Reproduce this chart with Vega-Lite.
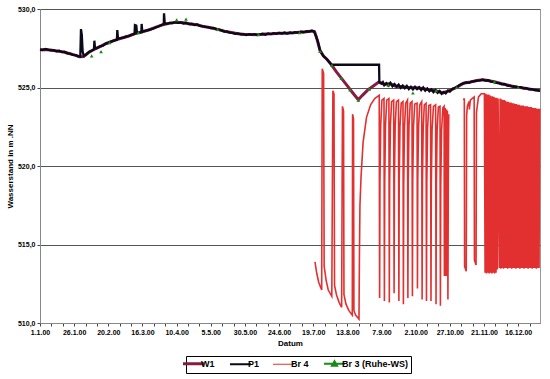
{
"$schema":"https://vega.github.io/schema/vega-lite/v6.json",
"width":500,"height":314,
"autosize":"none",
"padding":{"left":40,"top":9,"right":10,"bottom":56},
"background":"white",
"config":{"view":{"stroke":"#999","strokeWidth":1},"font":"Liberation Sans"},
"data":{"values":[
{"s":"W1","t":0,"v":527.40},{"s":"W1","t":5,"v":527.42},{"s":"W1","t":10,"v":527.35},{"s":"W1","t":15,"v":527.30},{"s":"W1","t":20,"v":527.20},{"s":"W1","t":25,"v":527.08},{"s":"W1","t":29,"v":526.96},{"s":"W1","t":32,"v":526.98},{"s":"W1","t":36,"v":527.25},{"s":"W1","t":40,"v":527.45},{"s":"W1","t":45,"v":527.65},{"s":"W1","t":49,"v":527.82},{"s":"W1","t":55,"v":528.02},{"s":"W1","t":60,"v":528.15},{"s":"W1","t":65,"v":528.28},{"s":"W1","t":70,"v":528.45},{"s":"W1","t":75,"v":528.55},{"s":"W1","t":80,"v":528.68},{"s":"W1","t":85,"v":528.85},{"s":"W1","t":90,"v":529.00},{"s":"W1","t":95,"v":529.10},{"s":"W1","t":100,"v":529.15},{"s":"W1","t":105,"v":529.12},{"s":"W1","t":110,"v":529.05},{"s":"W1","t":115,"v":529.00},{"s":"W1","t":120,"v":528.88},{"s":"W1","t":125,"v":528.80},{"s":"W1","t":130,"v":528.70},{"s":"W1","t":135,"v":528.58},{"s":"W1","t":140,"v":528.50},{"s":"W1","t":145,"v":528.42},{"s":"W1","t":150,"v":528.38},{"s":"W1","t":155,"v":528.38},{"s":"W1","t":160,"v":528.36},{"s":"W1","t":165,"v":528.40},{"s":"W1","t":170,"v":528.42},{"s":"W1","t":175,"v":528.45},{"s":"W1","t":180,"v":528.46},{"s":"W1","t":185,"v":528.48},{"s":"W1","t":190,"v":528.52},{"s":"W1","t":195,"v":528.55},{"s":"W1","t":199,"v":528.60},{"s":"W1","t":201,"v":528.55},{"s":"W1","t":203,"v":528.0},{"s":"W1","t":205,"v":527.35},{"s":"W1","t":207.5,"v":527.0},{"s":"W1","t":210,"v":526.8},{"s":"W1","t":213.5,"v":526.43},{"s":"W1","t":217,"v":526.0},{"s":"W1","t":221,"v":525.55},{"s":"W1","t":225,"v":525.1},{"s":"W1","t":229,"v":524.65},{"s":"W1","t":233,"v":524.22},{"s":"W1","t":236,"v":524.5},{"s":"W1","t":240,"v":524.85},{"s":"W1","t":244,"v":525.1},{"s":"W1","t":248,"v":525.35},{"s":"W1","t":252,"v":525.2},{"s":"W1","t":256,"v":525.25},{"s":"W1","t":260,"v":525.1},{"s":"W1","t":265,"v":525.05},{"s":"W1","t":270,"v":525.0},{"s":"W1","t":275,"v":524.98},{"s":"W1","t":280,"v":524.93},{"s":"W1","t":285,"v":524.85},{"s":"W1","t":290,"v":524.78},{"s":"W1","t":295,"v":524.65},{"s":"W1","t":300,"v":524.82},{"s":"W1","t":305,"v":525.0},{"s":"W1","t":310,"v":525.27},{"s":"W1","t":315,"v":525.35},{"s":"W1","t":320,"v":525.45},{"s":"W1","t":324,"v":525.5},{"s":"W1","t":328,"v":525.45},{"s":"W1","t":334,"v":525.33},{"s":"W1","t":340,"v":525.2},{"s":"W1","t":345,"v":525.1},{"s":"W1","t":350,"v":525.02},{"s":"W1","t":355,"v":524.95},{"s":"W1","t":360,"v":524.88},{"s":"W1","t":366,"v":524.8},
{"s":"P1","t":0,"v":527.42},{"s":"P1","t":2,"v":527.38},{"s":"P1","t":4,"v":527.45},{"s":"P1","t":6,"v":527.40},{"s":"P1","t":8,"v":527.36},{"s":"P1","t":10,"v":527.38},{"s":"P1","t":12,"v":527.30},{"s":"P1","t":14,"v":527.34},{"s":"P1","t":16,"v":527.26},{"s":"P1","t":18,"v":527.28},{"s":"P1","t":20,"v":527.18},{"s":"P1","t":22,"v":527.16},{"s":"P1","t":24,"v":527.08},{"s":"P1","t":26,"v":527.06},{"s":"P1","t":28,"v":526.98},{"s":"P1","t":29.5,"v":526.96},{"s":"P1","t":30,"v":528.72},{"s":"P1","t":30.6,"v":528.35},{"s":"P1","t":31.2,"v":527.3},{"s":"P1","t":32,"v":527.02},{"s":"P1","t":34,"v":527.12},{"s":"P1","t":36,"v":527.28},{"s":"P1","t":38,"v":527.36},{"s":"P1","t":39.5,"v":527.42},{"s":"P1","t":39.8,"v":527.98},{"s":"P1","t":40.3,"v":527.48},{"s":"P1","t":42,"v":527.52},{"s":"P1","t":44,"v":527.62},{"s":"P1","t":46,"v":527.66},{"s":"P1","t":48,"v":527.80},{"s":"P1","t":50,"v":527.84},{"s":"P1","t":52,"v":527.92},{"s":"P1","t":54,"v":527.98},{"s":"P1","t":56.3,"v":528.04},{"s":"P1","t":56.6,"v":528.66},{"s":"P1","t":57.1,"v":528.1},{"s":"P1","t":59,"v":528.14},{"s":"P1","t":61,"v":528.18},{"s":"P1","t":63,"v":528.24},{"s":"P1","t":65,"v":528.28},{"s":"P1","t":67,"v":528.36},{"s":"P1","t":69.2,"v":528.42},{"s":"P1","t":69.5,"v":528.98},{"s":"P1","t":70.5,"v":528.95},{"s":"P1","t":71,"v":528.46},{"s":"P1","t":73,"v":528.50},{"s":"P1","t":74.2,"v":528.52},{"s":"P1","t":74.4,"v":529.05},{"s":"P1","t":74.9,"v":528.56},{"s":"P1","t":77,"v":528.60},{"s":"P1","t":79,"v":528.66},{"s":"P1","t":81,"v":528.70},{"s":"P1","t":83,"v":528.76},{"s":"P1","t":85,"v":528.84},{"s":"P1","t":87,"v":528.90},{"s":"P1","t":89,"v":528.98},{"s":"P1","t":90.6,"v":529.05},{"s":"P1","t":90.8,"v":529.72},{"s":"P1","t":91.3,"v":529.08},{"s":"P1","t":93,"v":529.06},{"s":"P1","t":95,"v":529.12},{"s":"P1","t":97,"v":529.10},{"s":"P1","t":99,"v":529.16},{"s":"P1","t":101,"v":529.12},{"s":"P1","t":103,"v":529.14},{"s":"P1","t":105,"v":529.08},{"s":"P1","t":107,"v":529.12},{"s":"P1","t":109,"v":529.04},{"s":"P1","t":111,"v":529.06},{"s":"P1","t":113,"v":528.98},{"s":"P1","t":115,"v":529.02},{"s":"P1","t":117,"v":528.92},{"s":"P1","t":119,"v":528.90},{"s":"P1","t":121,"v":528.86},{"s":"P1","t":123,"v":528.84},{"s":"P1","t":125,"v":528.78},{"s":"P1","t":127,"v":528.80},{"s":"P1","t":129,"v":528.72},{"s":"P1","t":131,"v":528.68},{"s":"P1","t":133,"v":528.64},{"s":"P1","t":135,"v":528.56},{"s":"P1","t":137,"v":528.56},{"s":"P1","t":139,"v":528.50},{"s":"P1","t":141,"v":528.48},{"s":"P1","t":143,"v":528.42},{"s":"P1","t":145,"v":528.44},{"s":"P1","t":147,"v":528.38},{"s":"P1","t":149,"v":528.40},{"s":"P1","t":151,"v":528.34},{"s":"P1","t":153,"v":528.40},{"s":"P1","t":155,"v":528.36},{"s":"P1","t":157,"v":528.40},{"s":"P1","t":159,"v":528.34},{"s":"P1","t":161,"v":528.38},{"s":"P1","t":163,"v":528.42},{"s":"P1","t":165,"v":528.36},{"s":"P1","t":167,"v":528.44},{"s":"P1","t":169,"v":528.40},{"s":"P1","t":171,"v":528.46},{"s":"P1","t":173,"v":528.42},{"s":"P1","t":175,"v":528.48},{"s":"P1","t":177,"v":528.44},{"s":"P1","t":179,"v":528.50},{"s":"P1","t":181,"v":528.44},{"s":"P1","t":183,"v":528.50},{"s":"P1","t":185,"v":528.46},{"s":"P1","t":187,"v":528.52},{"s":"P1","t":189,"v":528.50},{"s":"P1","t":191,"v":528.56},{"s":"P1","t":193,"v":528.52},{"s":"P1","t":195,"v":528.58},{"s":"P1","t":197,"v":528.56},{"s":"P1","t":199,"v":528.62},{"s":"P1","t":200.5,"v":528.58},{"s":"P1","t":202,"v":528.3},{"s":"P1","t":203.5,"v":527.9},{"s":"P1","t":205,"v":527.35},{"s":"P1","t":207.5,"v":527.0},{"s":"P1","t":210,"v":526.8},{"s":"P1","t":213.5,"v":526.45},{"s":"P1","t":230,"v":526.45},{"s":"P1","t":248.2,"v":526.45},{"s":"P1","t":248.4,"v":525.35},{"s":"P1","t":250,"v":525.25},{"s":"P1","t":251,"v":525.35},{"s":"P1","t":252,"v":525.15},{"s":"P1","t":253.5,"v":525.28},{"s":"P1","t":255,"v":525.12},{"s":"P1","t":256.5,"v":525.3},{"s":"P1","t":258,"v":525.08},{"s":"P1","t":259.5,"v":525.22},{"s":"P1","t":261,"v":525.05},{"s":"P1","t":262.5,"v":525.18},{"s":"P1","t":264,"v":524.98},{"s":"P1","t":265.5,"v":525.12},{"s":"P1","t":267,"v":524.95},{"s":"P1","t":268.5,"v":525.1},{"s":"P1","t":270,"v":524.9},{"s":"P1","t":271.5,"v":525.05},{"s":"P1","t":273,"v":524.88},{"s":"P1","t":274.5,"v":525.04},{"s":"P1","t":276,"v":524.9},{"s":"P1","t":277.5,"v":525.02},{"s":"P1","t":279,"v":524.84},{"s":"P1","t":280.5,"v":525.0},{"s":"P1","t":282,"v":524.8},{"s":"P1","t":283.5,"v":524.94},{"s":"P1","t":285,"v":524.76},{"s":"P1","t":286.5,"v":524.88},{"s":"P1","t":288,"v":524.7},{"s":"P1","t":289.5,"v":524.84},{"s":"P1","t":291,"v":524.66},{"s":"P1","t":292.5,"v":524.78},{"s":"P1","t":294,"v":524.6},{"s":"P1","t":295.5,"v":524.72},{"s":"P1","t":297,"v":524.62},{"s":"P1","t":298.5,"v":524.8},{"s":"P1","t":300,"v":524.74},{"s":"P1","t":302,"v":524.92},{"s":"P1","t":304,"v":524.98},{"s":"P1","t":306,"v":525.1},{"s":"P1","t":308,"v":525.2},{"s":"P1","t":310,"v":525.26},{"s":"P1","t":312,"v":525.32},{"s":"P1","t":314,"v":525.3},{"s":"P1","t":316,"v":525.38},{"s":"P1","t":318,"v":525.4},{"s":"P1","t":320,"v":525.44},{"s":"P1","t":322,"v":525.46},{"s":"P1","t":324,"v":525.5},{"s":"P1","t":326,"v":525.44},{"s":"P1","t":328,"v":525.46},{"s":"P1","t":330,"v":525.38},{"s":"P1","t":332,"v":525.36},{"s":"P1","t":334,"v":525.3},{"s":"P1","t":336,"v":525.28},{"s":"P1","t":338,"v":525.2},{"s":"P1","t":340,"v":525.22},{"s":"P1","t":342,"v":525.12},{"s":"P1","t":344,"v":525.12},{"s":"P1","t":346,"v":525.06},{"s":"P1","t":348,"v":525.06},{"s":"P1","t":350,"v":525.0},{"s":"P1","t":352,"v":525.02},{"s":"P1","t":354,"v":524.94},{"s":"P1","t":356,"v":524.96},{"s":"P1","t":358,"v":524.88},{"s":"P1","t":360,"v":524.9},{"s":"P1","t":362,"v":524.84},{"s":"P1","t":364,"v":524.82},{"s":"P1","t":366,"v":524.78},
{"s":"Br 4","g":"a","t":201.3,"v":513.9},{"s":"Br 4","g":"a","t":202.5,"v":513.2},{"s":"Br 4","g":"a","t":204.0,"v":512.6},{"s":"Br 4","g":"a","t":206.2,"v":512.1},{"s":"Br 4","g":"a","t":206.6,"v":526.2},{"s":"Br 4","g":"a","t":207.6,"v":525.9},{"s":"Br 4","g":"a","t":208.0,"v":513.6},{"s":"Br 4","g":"a","t":209.5,"v":512.7},{"s":"Br 4","g":"a","t":211.0,"v":512.1},{"s":"Br 4","g":"a","t":213.6,"v":511.7},{"s":"Br 4","g":"a","t":214.4,"v":524.8},{"s":"Br 4","g":"a","t":215.2,"v":524.6},{"s":"Br 4","g":"a","t":215.6,"v":512.4},{"s":"Br 4","g":"a","t":217.0,"v":511.8},{"s":"Br 4","g":"a","t":219.0,"v":511.3},{"s":"Br 4","g":"a","t":220.8,"v":511.0},{"s":"Br 4","g":"a","t":221.4,"v":523.8},{"s":"Br 4","g":"a","t":222.2,"v":523.5},{"s":"Br 4","g":"a","t":222.5,"v":511.8},{"s":"Br 4","g":"a","t":224.0,"v":511.2},{"s":"Br 4","g":"a","t":226.0,"v":510.8},{"s":"Br 4","g":"a","t":228.6,"v":510.5},{"s":"Br 4","g":"a","t":228.8,"v":523.3},{"s":"Br 4","g":"a","t":229.5,"v":523.0},{"s":"Br 4","g":"a","t":229.8,"v":510.8},{"s":"Br 4","g":"a","t":231.0,"v":510.5},{"s":"Br 4","g":"a","t":233.5,"v":510.25},{"s":"Br 4","g":"a","t":233.8,"v":514.0},{"s":"Br 4","g":"a","t":234.2,"v":517.5},{"s":"Br 4","g":"a","t":235.0,"v":519.3},{"s":"Br 4","g":"a","t":236.5,"v":521.5},{"s":"Br 4","g":"a","t":239.0,"v":523.1},{"s":"Br 4","g":"a","t":242.0,"v":523.9},{"s":"Br 4","g":"a","t":245.0,"v":524.3},{"s":"Br 4","g":"a","t":248.3,"v":524.5},
{"s":"Br 4","g":"a","t":248.6,"v":511.6},{"s":"Br 4","g":"a","t":248.85,"v":519.0},{"s":"Br 4","g":"a","t":249.4,"v":522.6},{"s":"Br 4","g":"a","t":250.3,"v":524.2},
{"s":"Br 4","g":"a","t":251.8,"v":524.3},{"s":"Br 4","g":"a","t":252.1,"v":511.4},{"s":"Br 4","g":"a","t":252.35,"v":519.0},{"s":"Br 4","g":"a","t":252.9,"v":522.6},{"s":"Br 4","g":"a","t":253.8,"v":524.2},
{"s":"Br 4","g":"a","t":255.4,"v":524.3},{"s":"Br 4","g":"a","t":255.7,"v":511.3},{"s":"Br 4","g":"a","t":255.95,"v":519.0},{"s":"Br 4","g":"a","t":256.5,"v":522.6},{"s":"Br 4","g":"a","t":257.4,"v":524.1},
{"s":"Br 4","g":"a","t":258.9,"v":524.2},{"s":"Br 4","g":"a","t":259.2,"v":511.9},{"s":"Br 4","g":"a","t":259.45,"v":519.2},{"s":"Br 4","g":"a","t":260.0,"v":522.6},{"s":"Br 4","g":"a","t":260.9,"v":524.1},
{"s":"Br 4","g":"a","t":262.4,"v":524.2},{"s":"Br 4","g":"a","t":262.7,"v":511.4},{"s":"Br 4","g":"a","t":262.95,"v":519.0},{"s":"Br 4","g":"a","t":263.5,"v":522.5},{"s":"Br 4","g":"a","t":264.4,"v":524.0},
{"s":"Br 4","g":"a","t":265.7,"v":524.1},{"s":"Br 4","g":"a","t":266.0,"v":511.2},{"s":"Br 4","g":"a","t":266.25,"v":518.8},{"s":"Br 4","g":"a","t":266.8,"v":522.5},{"s":"Br 4","g":"a","t":267.7,"v":524.0},
{"s":"Br 4","g":"a","t":269.0,"v":524.2},{"s":"Br 4","g":"a","t":269.3,"v":511.6},{"s":"Br 4","g":"a","t":269.55,"v":519.0},{"s":"Br 4","g":"a","t":270.1,"v":522.6},{"s":"Br 4","g":"a","t":271.0,"v":524.0},
{"s":"Br 4","g":"a","t":272.3,"v":524.1},{"s":"Br 4","g":"a","t":272.6,"v":511.7},{"s":"Br 4","g":"a","t":272.85,"v":519.0},{"s":"Br 4","g":"a","t":273.4,"v":522.5},{"s":"Br 4","g":"a","t":274.3,"v":523.95},
{"s":"Br 4","g":"a","t":276.0,"v":524.0},{"s":"Br 4","g":"a","t":276.3,"v":512.2},{"s":"Br 4","g":"a","t":276.55,"v":519.2},{"s":"Br 4","g":"a","t":277.1,"v":522.5},{"s":"Br 4","g":"a","t":278.0,"v":523.9},
{"s":"Br 4","g":"a","t":279.4,"v":524.1},{"s":"Br 4","g":"a","t":279.7,"v":511.5},{"s":"Br 4","g":"a","t":279.95,"v":519.0},{"s":"Br 4","g":"a","t":280.5,"v":522.4},{"s":"Br 4","g":"a","t":281.3,"v":523.9},
{"s":"Br 4","g":"a","t":282.6,"v":524.0},{"s":"Br 4","g":"a","t":282.9,"v":511.4},{"s":"Br 4","g":"a","t":283.15,"v":518.9},{"s":"Br 4","g":"a","t":283.7,"v":522.4},{"s":"Br 4","g":"a","t":284.6,"v":523.85},
{"s":"Br 4","g":"a","t":285.9,"v":523.9},{"s":"Br 4","g":"a","t":286.2,"v":511.4},{"s":"Br 4","g":"a","t":286.45,"v":518.9},{"s":"Br 4","g":"a","t":287.0,"v":522.3},{"s":"Br 4","g":"a","t":288.0,"v":523.8},
{"s":"Br 4","g":"a","t":289.6,"v":523.9},{"s":"Br 4","g":"a","t":289.9,"v":511.2},{"s":"Br 4","g":"a","t":290.15,"v":518.8},{"s":"Br 4","g":"a","t":290.7,"v":522.3},{"s":"Br 4","g":"a","t":291.6,"v":523.75},
{"s":"Br 4","g":"a","t":292.8,"v":523.8},{"s":"Br 4","g":"a","t":293.1,"v":511.1},{"s":"Br 4","g":"a","t":293.35,"v":518.7},{"s":"Br 4","g":"a","t":293.9,"v":522.2},{"s":"Br 4","g":"a","t":294.9,"v":523.7},
{"s":"Br 4","g":"a","t":295.8,"v":523.8},{"s":"Br 4","g":"a","t":296.0,"v":513.0},{"s":"Br 4","g":"a","t":296.2,"v":523.6},{"s":"Br 4","g":"a","t":296.5,"v":513.1},{"s":"Br 4","g":"a","t":296.7,"v":523.7},{"s":"Br 4","g":"a","t":297.0,"v":513.0},{"s":"Br 4","g":"a","t":297.2,"v":523.6},{"s":"Br 4","g":"a","t":297.5,"v":513.2},{"s":"Br 4","g":"a","t":297.7,"v":523.6},{"s":"Br 4","g":"a","t":298.0,"v":513.0},{"s":"Br 4","g":"a","t":298.2,"v":523.5},{"s":"Br 4","g":"a","t":298.6,"v":511.5},{"s":"Br 4","g":"a","t":298.9,"v":519.5},{"s":"Br 4","g":"a","t":299.2,"v":523.3},
{"s":"Br 4","g":"c","t":310.0,"v":524.2},{"s":"Br 4","g":"c","t":310.6,"v":524.3},{"s":"Br 4","g":"c","t":310.8,"v":513.6},{"s":"Br 4","g":"c","t":312.0,"v":513.3},{"s":"Br 4","g":"c","t":312.3,"v":523.2},{"s":"Br 4","g":"c","t":312.8,"v":523.8},{"s":"Br 4","g":"c","t":314.0,"v":524.1},{"s":"Br 4","g":"c","t":314.3,"v":523.6},{"s":"Br 4","g":"c","t":315.0,"v":524.2},{"s":"Br 4","g":"c","t":317.8,"v":524.4},{"s":"Br 4","g":"c","t":318.0,"v":514.0},{"s":"Br 4","g":"c","t":319.2,"v":513.7},{"s":"Br 4","g":"c","t":319.5,"v":523.4},{"s":"Br 4","g":"c","t":320.2,"v":523.9},{"s":"Br 4","g":"c","t":321.0,"v":524.4},{"s":"Br 4","g":"c","t":323.0,"v":524.6},{"s":"Br 4","g":"c","t":325.3,"v":524.6},
{"s":"Br 4","g":"c","t":325.8,"v":513.2},{"s":"Br 4","g":"c","t":326.3,"v":524.6},{"s":"Br 4","g":"c","t":326.8,"v":513.15},{"s":"Br 4","g":"c","t":327.3,"v":524.55},{"s":"Br 4","g":"c","t":327.8,"v":513.2},{"s":"Br 4","g":"c","t":328.3,"v":524.55},{"s":"Br 4","g":"c","t":328.8,"v":513.15},{"s":"Br 4","g":"c","t":329.3,"v":524.5},{"s":"Br 4","g":"c","t":329.8,"v":513.2},{"s":"Br 4","g":"c","t":330.3,"v":524.45},{"s":"Br 4","g":"c","t":330.8,"v":513.15},{"s":"Br 4","g":"c","t":331.3,"v":524.45},{"s":"Br 4","g":"c","t":331.8,"v":513.2},{"s":"Br 4","g":"c","t":332.3,"v":524.4},{"s":"Br 4","g":"c","t":332.8,"v":513.15},{"s":"Br 4","g":"c","t":333.3,"v":524.35},{"s":"Br 4","g":"c","t":333.8,"v":513.2},{"s":"Br 4","g":"c","t":334.3,"v":524.35},{"s":"Br 4","g":"c","t":334.8,"v":513.4},{"s":"Br 4","g":"c","t":335.3,"v":524.3},{"s":"Br 4","g":"c","t":336.3,"v":513.5},{"s":"Br 4","g":"c","t":336.8,"v":524.3},{"s":"Br 4","g":"c","t":337.3,"v":513.45},{"s":"Br 4","g":"c","t":337.8,"v":524.25},{"s":"Br 4","g":"c","t":338.3,"v":513.5},{"s":"Br 4","g":"c","t":338.8,"v":524.2},{"s":"Br 4","g":"c","t":339.3,"v":513.45},{"s":"Br 4","g":"c","t":339.8,"v":524.2},{"s":"Br 4","g":"c","t":340.3,"v":513.5},{"s":"Br 4","g":"c","t":340.8,"v":524.15},{"s":"Br 4","g":"c","t":341.3,"v":513.5},{"s":"Br 4","g":"c","t":341.8,"v":524.1},{"s":"Br 4","g":"c","t":342.3,"v":513.45},{"s":"Br 4","g":"c","t":342.8,"v":524.1},{"s":"Br 4","g":"c","t":343.3,"v":513.5},{"s":"Br 4","g":"c","t":343.8,"v":524.05},{"s":"Br 4","g":"c","t":344.3,"v":513.5},{"s":"Br 4","g":"c","t":344.8,"v":524.05},{"s":"Br 4","g":"c","t":345.3,"v":513.45},{"s":"Br 4","g":"c","t":345.8,"v":524.0},{"s":"Br 4","g":"c","t":346.3,"v":513.5},{"s":"Br 4","g":"c","t":346.8,"v":524.0},{"s":"Br 4","g":"c","t":347.3,"v":513.5},{"s":"Br 4","g":"c","t":347.8,"v":523.95},{"s":"Br 4","g":"c","t":348.3,"v":513.45},{"s":"Br 4","g":"c","t":348.8,"v":523.95},{"s":"Br 4","g":"c","t":349.3,"v":513.5},{"s":"Br 4","g":"c","t":349.8,"v":523.9},{"s":"Br 4","g":"c","t":350.3,"v":513.5},{"s":"Br 4","g":"c","t":350.8,"v":523.9},{"s":"Br 4","g":"c","t":351.3,"v":513.45},{"s":"Br 4","g":"c","t":351.8,"v":523.85},{"s":"Br 4","g":"c","t":352.3,"v":513.5},{"s":"Br 4","g":"c","t":352.8,"v":523.85},{"s":"Br 4","g":"c","t":353.3,"v":513.5},{"s":"Br 4","g":"c","t":353.8,"v":523.85},{"s":"Br 4","g":"c","t":354.3,"v":513.45},{"s":"Br 4","g":"c","t":354.8,"v":523.8},{"s":"Br 4","g":"c","t":355.3,"v":513.5},{"s":"Br 4","g":"c","t":355.8,"v":523.8},{"s":"Br 4","g":"c","t":356.3,"v":513.5},{"s":"Br 4","g":"c","t":356.8,"v":523.8},{"s":"Br 4","g":"c","t":357.3,"v":513.45},{"s":"Br 4","g":"c","t":357.8,"v":523.75},{"s":"Br 4","g":"c","t":358.3,"v":513.5},{"s":"Br 4","g":"c","t":358.8,"v":523.75},{"s":"Br 4","g":"c","t":359.3,"v":513.5},{"s":"Br 4","g":"c","t":359.8,"v":523.75},{"s":"Br 4","g":"c","t":360.3,"v":513.45},{"s":"Br 4","g":"c","t":360.8,"v":523.7},{"s":"Br 4","g":"c","t":361.3,"v":513.5},{"s":"Br 4","g":"c","t":361.8,"v":523.7},{"s":"Br 4","g":"c","t":362.3,"v":513.5},{"s":"Br 4","g":"c","t":362.8,"v":523.7},{"s":"Br 4","g":"c","t":363.3,"v":513.45},{"s":"Br 4","g":"c","t":363.8,"v":523.65},{"s":"Br 4","g":"c","t":364.3,"v":513.5},{"s":"Br 4","g":"c","t":364.8,"v":523.65},{"s":"Br 4","g":"c","t":365.3,"v":513.5},{"s":"Br 4","g":"c","t":365.8,"v":523.65},
{"s":"Br 3 (Ruhe-WS)","t":37.8,"v":527.02},{"s":"Br 3 (Ruhe-WS)","t":44.7,"v":527.28},{"s":"Br 3 (Ruhe-WS)","t":51,"v":527.86},{"s":"Br 3 (Ruhe-WS)","t":72,"v":528.5},{"s":"Br 3 (Ruhe-WS)","t":100,"v":529.3},{"s":"Br 3 (Ruhe-WS)","t":106.9,"v":529.36},{"s":"Br 3 (Ruhe-WS)","t":130,"v":528.7},{"s":"Br 3 (Ruhe-WS)","t":160,"v":528.38},{"s":"Br 3 (Ruhe-WS)","t":190,"v":528.5},{"s":"Br 3 (Ruhe-WS)","t":205,"v":527.3},{"s":"Br 3 (Ruhe-WS)","t":213.6,"v":526.43},{"s":"Br 3 (Ruhe-WS)","t":220.5,"v":525.6},{"s":"Br 3 (Ruhe-WS)","t":227,"v":524.85},{"s":"Br 3 (Ruhe-WS)","t":233,"v":524.2},{"s":"Br 3 (Ruhe-WS)","t":241,"v":524.9},{"s":"Br 3 (Ruhe-WS)","t":255,"v":525.15},{"s":"Br 3 (Ruhe-WS)","t":273,"v":524.65},{"s":"Br 3 (Ruhe-WS)","t":290,"v":524.8},{"s":"Br 3 (Ruhe-WS)","t":305,"v":525.0},{"s":"Br 3 (Ruhe-WS)","t":332.6,"v":525.37},{"s":"Br 3 (Ruhe-WS)","t":350,"v":525.0}
]},
"encoding":{
"x":{"field":"t","type":"quantitative","scale":{"domain":[0,366],"nice":false,"zero":false},
"axis":{"title":"Datum","titleFont":"Liberation Sans","titleFontSize":8,"titleFontWeight":"bold","titleColor":"#000","titlePadding":4,
"values":[0,8.33,16.67,25,33.33,41.67,50,58.33,66.67,75,83.33,91.67,100,108.33,116.67,125,133.33,141.67,150,158.33,166.67,175,183.33,191.67,200,208.33,216.67,225,233.33,241.67,250,258.33,266.67,275,283.33,291.67,300,308.33,316.67,325,333.33,341.67,350,358.33],
"labelExpr":"datum.value % 25 === 0 ? timeFormat(datetime(2000,0,1+datum.value),'%-d.%-m.%y') : ''",
"labelFont":"Liberation Sans","labelFontSize":7,"labelFontWeight":"bold","labelColor":"#000","labelFlush":false,"labelOverlap":false,"labelPadding":2,
"grid":false,"tickSize":3,"tickColor":"#444","domainColor":"#888"}},
"y":{"field":"v","type":"quantitative","scale":{"domain":[510,530],"nice":false,"zero":false},
"axis":{"title":"Wasserstand in m  .NN","titleFont":"Liberation Sans","titleFontSize":8,"titleFontWeight":"bold","titleColor":"#000","titlePadding":3,
"values":[510,515,520,525,530],"labelExpr":"replace(format(datum.value,'.1f'),'.',',')",
"labelFont":"Liberation Sans","labelFontSize":7,"labelFontWeight":"bold","labelColor":"#000","labelPadding":2,
"grid":true,"gridColor":"#555","gridWidth":1,"tickSize":3,"tickColor":"#444","domainColor":"#888"}}
},
"layer":[
{"transform":[{"filter":"datum.s !== 'Br 3 (Ruhe-WS)'"}],
"mark":{"type":"line","interpolate":"linear"},
"encoding":{
"color":{"field":"s","type":"nominal","scale":{"domain":["W1","P1","Br 4","Br 3 (Ruhe-WS)"],"range":["#861c40","#0a0a1a","#e23030","#178a17"]},
"legend":{"orient":"none","legendX":146,"legendY":347,"direction":"horizontal","title":null,"strokeColor":"#000","fillColor":"#fff","padding":3,
"labelFont":"Liberation Sans","labelFontSize":9,"labelFontWeight":"bold","labelColor":"#000","symbolSize":441,"labelOffset":3,"columnPadding":11,
"encode":{"symbols":{"update":{
"shape":{"signal":"datum.value === 'Br 3 (Ruhe-WS)' ? 'M-1,0H1M-0.24,0.2L0,-0.22L0.24,0.2Z' : 'M-1,0H1'"},
"strokeWidth":{"signal":"datum.value === 'W1' ? 3 : datum.value === 'Br 4' ? 1 : 2"},
"fill":{"signal":"scale('color', datum.value)"},
"opacity":{"value":1}}}}}},
"strokeWidth":{"field":"s","type":"nominal","scale":{"domain":["W1","P1","Br 4"],"range":[3,1.6,1]},"legend":null},
"detail":{"field":"g"}}},
{"transform":[{"filter":"datum.s === 'Br 3 (Ruhe-WS)'"}],
"mark":{"type":"point","shape":"triangle-up","filled":true,"size":14,"opacity":1},
"encoding":{"color":{"field":"s","type":"nominal","legend":null}}}
]
}
